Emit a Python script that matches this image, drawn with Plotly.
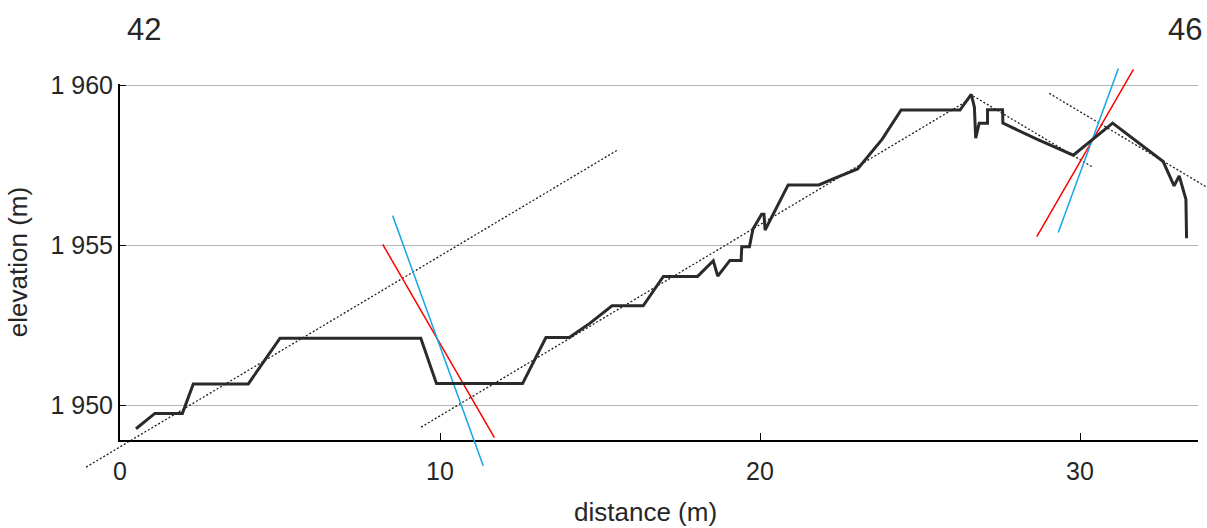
import plotly.graph_objects as go

# ---- data ----
profile_x = [0.5, 1.09, 1.95, 2.29, 4.01, 5.0, 9.40, 9.89, 12.58, 13.31, 14.04, 14.69, 15.375,
             16.35, 16.98, 18.05, 18.54, 18.68, 19.06, 19.41, 19.43, 19.67, 19.78, 20.05, 20.125,
             20.16, 20.88, 21.84, 22.34, 23.05, 23.82, 24.41, 26.25, 26.60, 26.70, 26.74, 26.85,
             27.11, 27.11, 27.58, 27.59, 28.65, 29.79, 31.02, 32.60, 32.94, 33.10, 33.31, 33.33]
profile_y = [1949.28, 1949.76, 1949.76, 1950.68, 1950.68, 1952.11, 1952.11, 1950.69, 1950.69,
             1952.13, 1952.13, 1952.58, 1953.12, 1953.12, 1954.04, 1954.04, 1954.53, 1954.05,
             1954.54, 1954.54, 1954.97, 1954.97, 1955.52, 1955.98, 1955.98, 1955.49, 1956.90,
             1956.90, 1957.11, 1957.40, 1958.33, 1959.24, 1959.24, 1959.73, 1959.33, 1958.36,
             1958.83, 1958.83, 1959.25, 1959.25, 1958.83, 1958.33, 1957.83, 1958.83, 1957.63,
             1956.87, 1957.18, 1956.45, 1955.23]

fit_lines = {
    "A": ([-1.06, 15.55], [1948.08, 1957.99]),
    "B": ([9.41, 26.56], [1949.33, 1959.58]),
    "C": ([26.66, 30.37], [1959.68, 1957.47]),
    "D": ([29.04, 33.96], [1959.76, 1956.83]),
}
red_lines = [([8.21, 11.70], [1955.04, 1949.00]), ([28.65, 31.67], [1955.28, 1960.51])]
blue_lines = [([8.52, 11.35], [1955.94, 1948.12]), ([29.32, 31.20], [1955.41, 1960.54])]

y_ticks = [1950, 1955, 1960]
x_ticks = [0, 10, 20, 30]
corner_labels = ["42", "46"]
x_title = "distance (m)"
y_title = "elevation (m)"

# ---- layout geometry (pixels) ----
W, H = 1207, 528
PPU = 32.0          # pixels per metre (both axes)
X0_PX = 120.0       # pixel of x = 0
Y1960_PX = 85.7     # pixel of y = 1960
AX_RIGHT_PX = 1198.0
AX_BOTTOM_PX = 440.0
AX_TOP_PX = 84.0

def px_to_x(px):
    return (px - X0_PX) / PPU

def py_to_y(py):
    return 1960 - (py - Y1960_PX) / PPU

fig = go.Figure()

# hidden copy of the profile so that the main (tick/grid) axes are built
fig.add_trace(go.Scatter(x=profile_x, y=profile_y, mode="lines", xaxis="x", yaxis="y",
                         line=dict(color="rgba(0,0,0,0)", width=0),
                         showlegend=False, hoverinfo="skip"))

for name, (xs, ys) in fit_lines.items():
    fig.add_trace(go.Scatter(x=xs, y=ys, mode="lines", xaxis="x2", yaxis="y2",
                             line=dict(color="#1e1e1e", width=1.3, dash="2px,2px"),
                             showlegend=False, hoverinfo="skip"))
for xs, ys in red_lines:
    fig.add_trace(go.Scatter(x=xs, y=ys, mode="lines", xaxis="x2", yaxis="y2",
                             line=dict(color="#ff0000", width=1.5),
                             showlegend=False, hoverinfo="skip"))
for xs, ys in blue_lines:
    fig.add_trace(go.Scatter(x=xs, y=ys, mode="lines", xaxis="x2", yaxis="y2",
                             line=dict(color="#14a6e6", width=1.5),
                             showlegend=False, hoverinfo="skip"))
fig.add_trace(go.Scatter(x=profile_x, y=profile_y, mode="lines", xaxis="x2", yaxis="y2",
                         line=dict(color="#2a2a2a", width=3),
                         showlegend=False))

font_family = "Liberation Sans, Arial, sans-serif"
tick_font = dict(family=font_family, size=25, color="#262626")
title_font = dict(family=font_family, size=26, color="#262626")

fig.update_layout(
    width=W, height=H,
    margin=dict(l=0, r=0, t=0, b=0),
    paper_bgcolor="white",
    plot_bgcolor="rgba(0,0,0,0)",
    separators=". ",
    showlegend=False,
    xaxis=dict(
        domain=[X0_PX / W, AX_RIGHT_PX / W],
        range=[0, px_to_x(AX_RIGHT_PX)],
        tickvals=x_ticks, ticks="inside", ticklen=7, tickcolor="#000000", tickwidth=1,
        showline=True, linecolor="#000000", linewidth=2,
        showgrid=False, zeroline=False,
        tickfont=tick_font, ticklabelstandoff=8,
        anchor="y", automargin=False,
    ),
    yaxis=dict(
        domain=[1 - AX_BOTTOM_PX / H, 1 - AX_TOP_PX / H],
        range=[py_to_y(AX_BOTTOM_PX), py_to_y(AX_TOP_PX)],
        tickvals=y_ticks, tickformat=",d", ticks="inside", ticklen=6, tickcolor="#000000",
        showline=True, linecolor="#000000", linewidth=2,
        showgrid=True, gridcolor="#b4b4b4", gridwidth=1,
        zeroline=False,
        tickfont=tick_font,
        title=dict(text=y_title, font=title_font, standoff=15),
        anchor="x", automargin=False,
    ),
    xaxis2=dict(domain=[0, 1], range=[px_to_x(0), px_to_x(W)], visible=False,
                anchor="y2", fixedrange=True),
    yaxis2=dict(domain=[0, 1], range=[py_to_y(H), py_to_y(0)], visible=False,
                anchor="x2", fixedrange=True),
)

fig.add_annotation(text=x_title, x=645 / W, y=1 - 512 / H, xref="paper", yref="paper",
                   showarrow=False, font=title_font, xanchor="center", yanchor="middle")
fig.add_annotation(text=corner_labels[0], x=144 / W, y=1 - 30 / H, xref="paper", yref="paper",
                   showarrow=False, font=dict(family=font_family, size=31, color="#262626"),
                   xanchor="center", yanchor="middle")
fig.add_annotation(text=corner_labels[1], x=1185 / W, y=1 - 30 / H, xref="paper", yref="paper",
                   showarrow=False, font=dict(family=font_family, size=31, color="#262626"),
                   xanchor="center", yanchor="middle")

fig.write_html("out.html", config={"displayModeBar": False},
               post_script="document.body.style.margin='0';")
